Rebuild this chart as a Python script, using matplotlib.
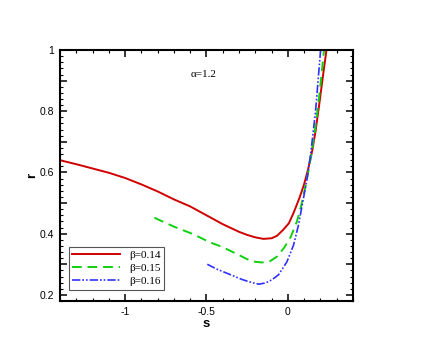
import matplotlib
matplotlib.use("Agg")
import matplotlib.pyplot as plt
from matplotlib.ticker import MultipleLocator, FuncFormatter

s_b014 = [-1.40, -1.30, -1.20, -1.10, -1.00, -0.90, -0.80, -0.70, -0.60, -0.50,
          -0.40, -0.30, -0.25, -0.20, -0.15, -0.10, -0.067, -0.03, 0.006, 0.035,
          0.072, 0.10, 0.125, 0.15, 0.17, 0.19, 0.213, 0.237]
r_b014 = [0.640, 0.627, 0.613, 0.599, 0.582, 0.561, 0.538, 0.512, 0.489, 0.460,
          0.431, 0.406, 0.396, 0.388, 0.383, 0.385, 0.393, 0.412, 0.434, 0.468,
          0.518, 0.562, 0.612, 0.672, 0.735, 0.812, 0.905, 1.0]

s_b015 = [-0.82, -0.70, -0.58, -0.48, -0.40, -0.30, -0.24, -0.20, -0.158, -0.11,
          -0.067, -0.023, 0.018, 0.055, 0.08, 0.112, 0.14, 0.17, 0.195, 0.222]
r_b015 = [0.452, 0.423, 0.398, 0.372, 0.356, 0.330, 0.314, 0.308, 0.306, 0.310,
          0.325, 0.354, 0.390, 0.439, 0.488, 0.564, 0.645, 0.750, 0.860, 1.0]

s_b016 = [-0.495, -0.44, -0.362, -0.28, -0.22, -0.178, -0.137, -0.096, -0.057, -0.006,
          0.035, 0.065, 0.092, 0.118, 0.14, 0.17, 0.201]
r_b016 = [0.300, 0.285, 0.268, 0.250, 0.240, 0.235, 0.239, 0.250, 0.266, 0.308,
          0.363, 0.428, 0.505, 0.580, 0.660, 0.800, 1.0]

labels = ["\u03b2=0.14", "\u03b2=0.15", "\u03b2=0.16"]
annotation = "\u03b1=1.2"

fig = plt.figure(figsize=(4.36, 3.58), dpi=100)
ax = fig.add_axes([0.1376, 0.1592, 0.672, 0.701])

ax.plot(s_b014, r_b014, color="#d00000", lw=1.4, label=labels[0])
ax.plot(s_b015, r_b015, color="#10d010", lw=1.4, dashes=(5, 3), label=labels[1])
ax.plot(s_b016, r_b016, color="#3030ff", lw=1.2,
        dashes=(5, 1.2, 1, 1.2, 1, 1.2), label=labels[2])

ax.set_xlim(-1.4, 0.4)
ax.set_ylim(0.18, 1.0)

ax.xaxis.set_major_locator(MultipleLocator(0.5))
ax.xaxis.set_minor_locator(MultipleLocator(0.1))
ax.yaxis.set_major_locator(MultipleLocator(0.1))
ax.yaxis.set_minor_locator(MultipleLocator(0.02))

def xfmt(v, pos):
    if abs(v) < 1e-9:
        return "0"
    if abs(v - round(v)) < 1e-9:
        return "%d" % round(v)
    return "%g" % v

def yfmt(v, pos):
    k = int(round(v * 10))
    if k % 2 == 0:
        if k == 10:
            return "1"
        return "%g" % (k / 10)
    return ""

ax.xaxis.set_major_formatter(FuncFormatter(xfmt))
ax.yaxis.set_major_formatter(FuncFormatter(yfmt))

tickfont = ["Liberation Sans", "DejaVu Sans"]
ax.tick_params(which="both", direction="in", top=True, right=True)
ax.tick_params(which="major", length=5, width=1.1, labelsize=7.5, pad=4)
ax.tick_params(which="minor", length=2.5, width=0.8)
for lab in ax.get_xticklabels() + ax.get_yticklabels():
    lab.set_family(tickfont)
for sp in ax.spines.values():
    sp.set_linewidth(1.5)

ax.set_xlabel("s", fontsize=9.5, fontweight="bold", family=tickfont, labelpad=1)
ax.set_ylabel("r", fontsize=9.5, fontweight="bold", family=tickfont, labelpad=1)

ax.text(-0.52, 0.92, annotation, fontsize=8, family=["Liberation Serif", "DejaVu Serif"],
        ha="center", va="center")

leg = ax.legend(loc="lower left", bbox_to_anchor=(0.03, 0.045), frameon=True,
                fancybox=False, edgecolor="#555555", framealpha=1,
                prop={"family": ["Liberation Serif", "DejaVu Serif"], "size": 8},
                handlelength=4.3, handletextpad=0.8, labelspacing=0.3,
                borderpad=0.3, borderaxespad=0)
leg.get_frame().set_linewidth(0.8)

fig.savefig("out.png", dpi=100)
